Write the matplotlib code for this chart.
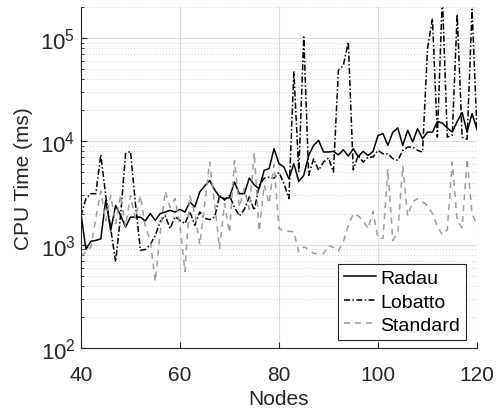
import matplotlib
matplotlib.use("Agg")
import matplotlib.pyplot as plt
import numpy as np

nodes = np.arange(40, 121)

radau = [2000, 900, 1080, 1100, 1140, 2690, 1380, 2400, 1920, 1480,
         1850, 1850, 1850, 1700, 2000, 1720, 2000, 2070, 2150, 2070,
         2200, 2070, 2590, 2320, 3240, 3700, 4190, 3400, 2900, 2790,
         2850, 4040, 3120, 3120, 4420, 3800, 3480, 5250, 5450, 8490,
         6080, 5650, 4350, 6080, 4100, 4690, 7320, 9150, 10230, 7900,
         7900, 8000, 7400, 8300, 7200, 8500, 7100, 8000, 7300, 8000,
         11400, 11900, 9150, 12300, 13500, 9150, 12800, 9870, 13300, 10600,
         12300, 12300, 15600, 15000, 13500, 12300, 15600, 19000, 12300, 18600,
         13100]

lobatto = [1900, 2790, 3120, 3120, 7430, 3000, 1430, 680, 1920, 7610,
           8000, 2500, 880, 900, 1000, 1230, 1670, 1920, 1430, 1870,
           1720, 1600, 2080, 1540, 2080, 1800, 1750, 1850, 3000, 2700,
           3000, 2300, 1900, 2200, 2900, 2150, 3750, 4400, 4500, 4400,
           5000, 3900, 2790, 47000, 5060, 102500, 4690, 6800, 5250, 6320,
           6900, 5060, 48800, 54500, 91600, 5300, 7300, 6300, 7050, 7050,
           8180, 7600, 7600, 6800, 6550, 8180, 8800, 8800, 8180, 7890,
           79000, 155000, 11000, 260000, 11000, 11500, 170000, 11000, 10500, 190000,
           12700]

standard = [780, 850, 950, 1800, 3300, 1700, 3000, 1600, 3000, 1500,
            3000, 1800, 3000, 1500, 1100, 440, 1300, 3300, 2300, 2800,
            1500, 550, 3000, 2000, 1000, 2500, 6300, 2500, 920, 2500,
            1300, 6500, 2300, 3500, 2200, 7800, 1350, 3800, 2500, 6000,
            1430, 1370, 1350, 1330, 850, 950, 910, 820, 820, 820,
            980, 940, 870, 1070, 1530, 2000, 1900, 1700, 1430, 2100,
            1150, 1150, 5400, 1100, 1300, 5800, 1900, 2600, 2800, 2600,
            2400, 2000, 1500, 1250, 1400, 6300, 1700, 1460, 6800, 2000,
            1530]

x_ticks = [40, 60, 80, 100, 120]
y_ticks = [1e2, 1e3, 1e4, 1e5]
y_tick_labels = [r"$\mathregular{10^{2}}$", r"$\mathregular{10^{3}}$",
                 r"$\mathregular{10^{4}}$", r"$\mathregular{10^{5}}$"]


def main():
    plt.rcParams["font.family"] = ["Liberation Sans", "DejaVu Sans"]
    plt.rcParams["mathtext.default"] = "regular"

    fig = plt.figure(figsize=(4.99, 4.14), dpi=100)
    ax = fig.add_axes([0.1623, 0.157, 0.7936, 0.8237])

    ax.plot(nodes, radau, "-", color="black", lw=1.1, label="Radau")
    ax.plot(nodes, lobatto, color="black", lw=1.1, label="Lobatto",
            dashes=(4, 1.5, 1, 1.5))
    ax.plot(nodes, standard, color="0.62", lw=1.1, label="Standard",
            dashes=(3.9, 3.3))

    ax.set_yscale("log")
    ax.set_xlim(40, 120)
    ax.set_ylim(1e2, 2e5)
    ax.set_xticks(x_ticks)
    ax.set_yticks(y_ticks)
    ax.set_yticklabels(y_tick_labels)

    # MATLAB-ish look: grid, inward ticks, no box
    ax.grid(True, which="major", color="#dddddd", lw=0.8, ls="-")
    ax.grid(True, which="minor", axis="y", color="#c4c4c4", lw=0.6, ls=(0, (1, 2.5)))
    ax.set_axisbelow(True)
    for side in ["top", "right"]:
        ax.spines[side].set_visible(False)
    for side in ["left", "bottom"]:
        ax.spines[side].set_color("0.15")
        ax.spines[side].set_linewidth(0.8)
    ax.tick_params(which="both", direction="in", colors="0.15",
                   labelcolor="0.15")
    ax.tick_params(axis="x", labelsize=15, pad=12)
    ax.tick_params(axis="y", labelsize=16, pad=4)
    ax.tick_params(which="major", length=4)
    ax.tick_params(which="minor", length=2.5)
    ax.tick_params(axis="x", which="minor", bottom=False)

    ax.set_xlabel("Nodes", fontsize=15, color="0.15", labelpad=4)
    ax.set_ylabel("CPU Time (ms)", fontsize=15, color="0.15", labelpad=5)

    leg = ax.legend(loc="lower right", bbox_to_anchor=(0.972, 0.0235),
                    borderaxespad=0, fontsize=14, fancybox=False,
                    framealpha=1, edgecolor="0.15", handlelength=1.65,
                    handletextpad=0.2, labelspacing=0.3, borderpad=0.3)
    leg.get_frame().set_linewidth(0.8)

    plt.savefig("out.png", dpi=100)
    plt.close()


if __name__ == "__main__":
    main()
